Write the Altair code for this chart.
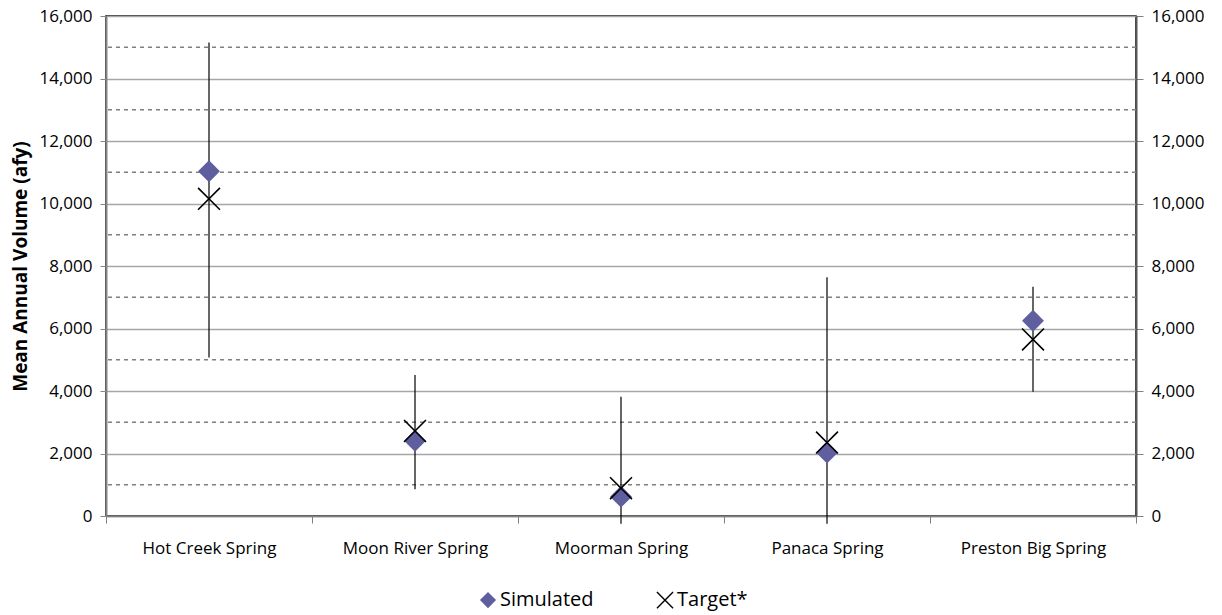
import altair as alt
import pandas as pd

categories = ["Hot Creek Spring", "Moon River Spring", "Moorman Spring", "Panaca Spring", "Preston Big Spring"]
simulated = [11030, 2410, 620, 2030, 6250]
target = [10150, 2720, 890, 2350, 5650]
err_low = [5070, 860, -250, -250, 3980]
err_high = [15150, 4510, 3820, 7640, 7340]
major_ticks = [0, 2000, 4000, 6000, 8000, 10000, 12000, 14000, 16000]
minor_grid = [1000, 3000, 5000, 7000, 9000, 11000, 13000, 15000]
series_names = ["Simulated", "Target*"]

FONT = "Open Sans"
PURPLE = "#5F5FA0"

pts = pd.DataFrame(
    [{"cat": c, "series": "Simulated", "v": s} for c, s in zip(categories, simulated)]
    + [{"cat": c, "series": "Target*", "v": t} for c, t in zip(categories, target)]
)
err = pd.DataFrame({"cat": categories, "lo": err_low, "hi": err_high})
minor = pd.DataFrame({"v": minor_grid})

ydom = alt.Scale(domain=[0, 16000], nice=False, zero=False)

xaxis = alt.Axis(
    title=None, labelAngle=0, tickBand="extent", grid=False,
    domainColor="#808080", domainWidth=1.5, tickColor="#808080", tickSize=7,
    labelFont=FONT, labelFontSize=17, labelColor="black", labelPadding=17,
)
xenc = alt.X("cat:N", sort=categories, axis=xaxis, scale=alt.Scale(paddingInner=0, paddingOuter=0))

minor_layer = alt.Chart(minor).mark_rule(
    color="#808080", strokeWidth=1.5, strokeDash=[4, 4]
).encode(y=alt.Y("v:Q", scale=ydom, axis=None))

err_layer = alt.Chart(err).mark_rule(color="black", strokeWidth=1.2).encode(
    x=xenc,
    y=alt.Y("lo:Q", scale=ydom, axis=alt.Axis(
        orient="right", values=major_ticks, format=",.0f", grid=False, title=None,
        domainColor="#595959", domainWidth=2, tickColor="#808080", tickSize=7,
        labelFont=FONT, labelFontSize=17, labelColor="black", labelPadding=8,
    )),
    y2="hi:Q",
)

pt_layer = alt.Chart(pts).mark_point(opacity=1, size=480, strokeWidth=1.6).encode(
    x=xenc,
    y=alt.Y("v:Q", scale=ydom, axis=alt.Axis(
        orient="left", values=major_ticks, format=",.0f", grid=True,
        gridColor="#A6A6A6", gridWidth=1.5,
        title="Mean Annual Volume (afy)", titleFont=FONT, titleFontSize=19,
        titleFontWeight="bold", titleColor="black", titlePadding=8,
        domainColor="#868686", domainWidth=2, tickColor="#868686", tickSize=6,
        labelFont=FONT, labelFontSize=17, labelColor="black", labelPadding=8,
    )),
    shape=alt.Shape("series:N", scale=alt.Scale(domain=series_names, range=["diamond", "M-1,-1L1,1M-1,1L1,-1"]), legend=alt.Legend(title=None)),
    fill=alt.Fill("series:N", scale=alt.Scale(domain=series_names, range=[PURPLE, "transparent"]), legend=alt.Legend(title=None)),
    stroke=alt.Stroke("series:N", scale=alt.Scale(domain=series_names, range=["transparent", "black"]), legend=alt.Legend(title=None)),
)

chart = alt.layer(minor_layer, err_layer, pt_layer).resolve_scale(y="independent").properties(
    width=1030, height=500,
    autosize=alt.AutoSizeParams(type="none"),
    padding={"left": 106, "top": 16, "right": 86, "bottom": 99},
).configure_view(stroke="black", strokeWidth=1.5).configure_legend(
    orient="none", legendX=372, legendY=574, direction="horizontal", columns=2,
    labelFont=FONT, labelFontSize=20, labelColor="black", symbolSize=260,
    symbolStrokeWidth=1.4, columnPadding=60, padding=0, labelOffset=2,
)

chart.save("out.html", embed_options={"renderer": "svg", "actions": False})
